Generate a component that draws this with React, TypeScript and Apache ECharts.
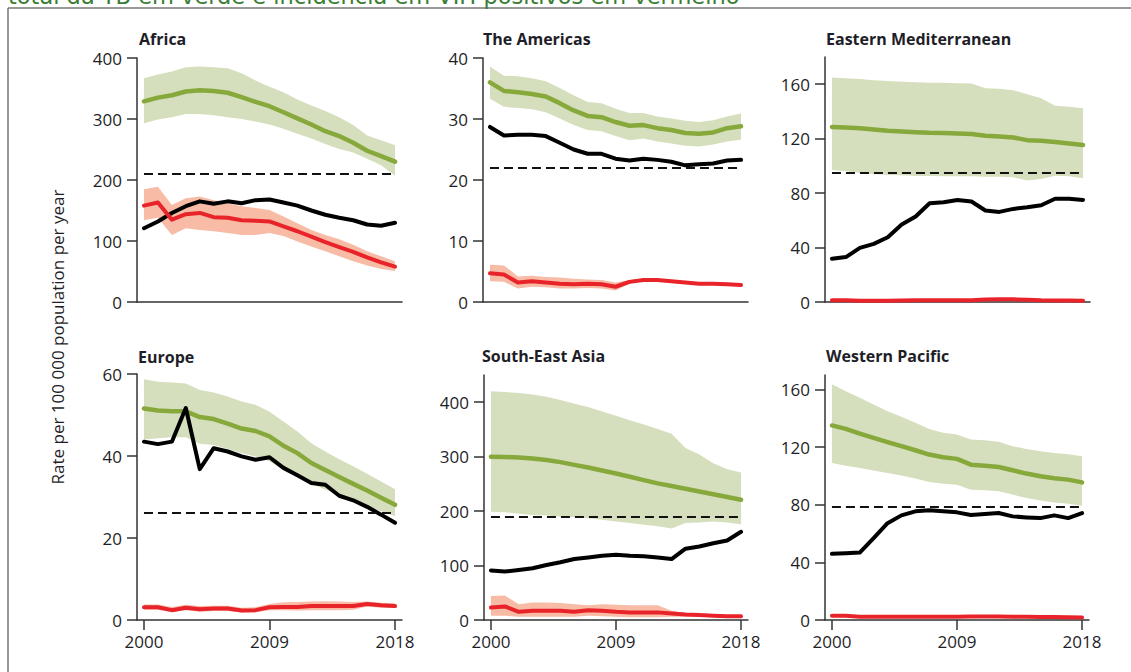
import React, { useEffect, useRef } from "react";
import * as echarts from "echarts";

const years = ["2000","2001","2002","2003","2004","2005","2006","2007","2008","2009","2010","2011","2012","2013","2014","2015","2016","2017","2018"];

const panelTitles = ["Africa", "The Americas", "Eastern Mediterranean", "Europe", "South-East Asia", "Western Pacific"];
const yAxisName = "Rate per 100 000 population per year";
const headerText = "total da TB em verde e incidência em VIH positivos em vermelho";

// Africa
const afrGreen = [329,335,339,345,347,346,343,336,328,321,311,301,291,280,272,261,248,239,230];
const afrGreenHi = [367,373,378,385,386,385,383,375,363,353,344,332,322,313,303,290,273,265,257];
const afrGreenLo = [293,299,303,308,308,306,303,300,296,291,284,276,268,259,251,245,235,224,207];
const afrBlack = [121,132,146,157,165,161,165,162,167,168,163,158,150,143,138,134,127,125,130];
const afrRed = [158,163,135,144,146,139,138,134,133,132,124,116,107,98,90,82,73,65,58];
const afrRedHi = [185,189,159,170,173,167,162,157,154,151,140,129,118,110,103,94,83,75,67];
const afrRedLo = [134,138,110,121,118,116,113,110,110,113,108,99,91,83,75,67,60,54,51];
const afrTarget = 210;

// The Americas
const amrGreen = [36.0,34.6,34.4,34.1,33.7,32.6,31.4,30.5,30.3,29.5,28.9,29.0,28.5,28.2,27.7,27.6,27.8,28.5,28.8];
const amrGreenHi = [38.6,37.1,37.0,36.7,36.2,35.1,33.9,32.8,32.6,31.7,31.0,31.0,30.4,30.1,29.7,29.5,29.8,30.4,30.9];
const amrGreenLo = [33.3,32.0,31.8,31.6,31.1,30.1,29.0,28.2,28.0,27.2,26.5,26.8,26.3,26.0,25.6,25.5,25.8,26.3,26.6];
const amrBlack = [28.7,27.3,27.4,27.4,27.2,26.1,25.0,24.3,24.3,23.5,23.2,23.5,23.3,23.0,22.4,22.6,22.7,23.2,23.3];
const amrRed = [4.7,4.5,3.2,3.4,3.2,3.0,2.9,3.0,2.9,2.5,3.3,3.6,3.6,3.4,3.2,3.0,3.0,2.9,2.8];
const amrRedHi = [6.1,6.0,4.2,4.3,4.1,4.0,3.8,3.7,3.6,3.2,3.6,3.8,3.8,3.6,3.4,3.2,3.2,3.1,3.0];
const amrRedLo = [3.4,3.3,2.2,2.5,2.4,2.2,2.2,2.3,2.2,1.9,3.0,3.4,3.4,3.2,3.0,2.8,2.8,2.7,2.6];
const amrTarget = 22;

// Eastern Mediterranean
const emrGreen = [128.6,128.2,127.7,126.8,125.8,125.3,124.8,124.3,124.1,123.8,123.4,122.1,121.6,120.9,118.9,118.4,117.5,116.5,115.3];
const emrGreenHi = [164.9,164.4,163.9,162.9,162.4,161.9,161.4,161.0,161.0,160.7,160.5,157.1,156.6,155.6,152.6,149.7,144.1,143.4,142.4];
const emrGreenLo = [97.0,96.0,95.0,94.0,93.3,93.1,92.6,92.6,92.3,92.3,92.3,92.1,92.1,91.6,89.2,90.4,92.8,92.3,90.9];
const emrBlack = [31.8,33.0,39.8,42.7,47.6,56.9,62.8,72.5,73.3,75.0,73.8,67.2,66.2,68.4,69.6,71.1,75.9,75.9,75.0];
const emrRed = [1.2,1.2,1.0,1.0,1.0,1.1,1.2,1.2,1.3,1.3,1.3,1.9,2.0,2.0,1.6,1.2,1.1,1.1,1.0];
const emrRedHi = [1.7,1.7,1.5,1.5,1.5,1.6,1.7,1.7,1.8,1.8,1.8,2.5,2.7,2.7,2.2,1.7,1.6,1.6,1.5];
const emrRedLo = [0.8,0.8,0.6,0.6,0.6,0.7,0.8,0.8,0.9,0.9,0.9,1.3,1.4,1.4,1.1,0.8,0.7,0.7,0.6];
const emrTarget = 94.8;

// Europe
const eurGreen = [51.6,51.1,50.9,50.9,49.5,49.0,47.9,46.7,46.1,44.8,42.5,40.7,38.3,36.6,34.9,33.2,31.6,29.8,28.1];
const eurGreenHi = [58.7,58.1,57.9,57.7,56.1,55.5,54.5,53.3,52.5,50.8,48.4,46.0,43.1,41.1,39.2,37.5,35.7,33.8,31.9];
const eurGreenLo = [44.0,44.3,44.6,44.6,43.0,42.7,41.7,40.7,39.9,38.7,36.6,35.0,33.2,31.8,30.3,29.0,27.7,26.5,25.3];
const eurBlack = [43.5,42.9,43.5,51.7,36.8,41.9,41.1,39.9,39.1,39.7,37.1,35.3,33.4,33.0,30.3,29.2,27.6,25.7,23.7];
const eurRed = [3.1,3.1,2.4,3.0,2.6,2.8,2.8,2.3,2.4,3.1,3.2,3.2,3.4,3.4,3.4,3.4,3.9,3.6,3.4];
const eurRedHi = [3.8,3.8,3.2,3.7,3.4,3.5,3.5,3.0,3.1,3.9,4.3,4.4,4.5,4.6,4.5,4.4,4.5,4.2,4.0];
const eurRedLo = [2.5,2.5,1.9,2.4,2.0,2.2,2.2,1.8,1.9,2.4,2.4,2.3,2.4,2.4,2.4,2.5,3.3,3.0,2.9];
const eurTarget = 26.1;

// South-East Asia
const searGreen = [300,299.5,298.5,296.5,294,290,285,280,274.5,269,263,257,251,246,241,236,231,226,221];
const searGreenHi = [420,419,417,414,410,404,397,391,383,375,367,359,351,342,316,304,288,277,271];
const searGreenLo = [199,198,195,193,192,190,189,187,184,181,178,175,172,168,178,179,181,179,176];
const searBlack = [91,89,92,95,101,106,112,115,118,120,118,117,115,112,131,135,141,146,162];
const searRed = [23,25,15,17,17,17,15,18,17,15,14,14,14,12,10,9,8,7,7];
const searRedHi = [44,45,29,32,32,31,29,27,29,28,27,27,27,17,13,11,9,8,8];
const searRedLo = [8,8,6,6,6,6,6,8,7,6,5,5,5,6,6,6,6,6,6];
const searTarget = 189;

// Western Pacific
const wprGreen = [135.0,132.6,129.4,126.4,123.4,120.6,117.8,114.8,112.9,111.8,107.8,107.1,106.2,103.9,101.6,99.7,98.3,97.4,95.5];
const wprGreenHi = [163.5,158.8,154.2,149.6,144.9,141.0,136.8,132.6,129.9,128.7,125.2,124.8,123.6,120.6,118.7,117.1,115.9,115.0,113.6];
const wprGreenLo = [109.0,107.1,105.5,103.7,102.0,100.2,98.1,95.8,94.6,93.9,90.4,90.0,89.3,87.0,84.6,83.0,81.6,80.7,79.3];
const wprBlack = [45.9,46.4,46.8,56.8,67.2,72.6,75.4,76.1,75.4,74.7,72.8,73.5,74.2,71.9,71.2,70.7,72.6,70.7,74.2];
const wprRed = [3.0,3.0,2.3,2.2,2.2,2.2,2.2,2.2,2.2,2.3,2.4,2.5,2.5,2.3,2.2,2.1,2.0,1.9,1.8];
const wprRedHi = [3.6,3.6,2.8,2.7,2.7,2.7,2.7,2.7,2.7,2.8,2.9,3.0,3.0,2.8,2.7,2.6,2.5,2.4,2.3];
const wprRedLo = [2.4,2.4,1.8,1.7,1.7,1.7,1.7,1.7,1.7,1.8,1.9,2.0,2.0,1.8,1.7,1.6,1.5,1.4,1.3];
const wprTarget = 78.8;

// y axis tick values and axis maxima
const afrTicks = [0, 100, 200, 300, 400];
const amrTicks = [0, 10, 20, 30, 40];
const emrTicks = [0, 40, 80, 120, 160];
const eurTicks = [0, 20, 40, 60];
const searTicks = [0, 100, 200, 300, 400];
const wprTicks = [0, 40, 80, 120, 160];
const axisMax = [400, 40, 180, 60, 450, 170];

const panels = [
  { green: afrGreen, gHi: afrGreenHi, gLo: afrGreenLo, black: afrBlack, red: afrRed, rHi: afrRedHi, rLo: afrRedLo, target: afrTarget, ticks: afrTicks },
  { green: amrGreen, gHi: amrGreenHi, gLo: amrGreenLo, black: amrBlack, red: amrRed, rHi: amrRedHi, rLo: amrRedLo, target: amrTarget, ticks: amrTicks },
  { green: emrGreen, gHi: emrGreenHi, gLo: emrGreenLo, black: emrBlack, red: emrRed, rHi: emrRedHi, rLo: emrRedLo, target: emrTarget, ticks: emrTicks },
  { green: eurGreen, gHi: eurGreenHi, gLo: eurGreenLo, black: eurBlack, red: eurRed, rHi: eurRedHi, rLo: eurRedLo, target: eurTarget, ticks: eurTicks },
  { green: searGreen, gHi: searGreenHi, gLo: searGreenLo, black: searBlack, red: searRed, rHi: searRedHi, rLo: searRedLo, target: searTarget, ticks: searTicks },
  { green: wprGreen, gHi: wprGreenHi, gLo: wprGreenLo, black: wprBlack, red: wprRed, rHi: wprRedHi, rLo: wprRedLo, target: wprTarget, ticks: wprTicks },
];

const gridPos = [
  { left: 137, top: 58, width: 265, height: 244 },
  { left: 483, top: 58, width: 265, height: 244 },
  { left: 825, top: 57, width: 265, height: 245 },
  { left: 137, top: 374, width: 265, height: 246 },
  { left: 484, top: 375, width: 264, height: 245 },
  { left: 825, top: 375, width: 264, height: 245 },
];
const titlePos = [
  { left: 139, top: 31 },
  { left: 483, top: 31 },
  { left: 826, top: 31 },
  { left: 138, top: 349 },
  { left: 482, top: 348 },
  { left: 826, top: 348 },
];

const FONT = "Open Sans";
const AXIS_COLOR = "#333333";
const TEXT_COLOR = "#1e1e28";
const GREEN = "#87a83b";
const GREEN_BAND = "#d6dfbd";
const RED = "#e8242a";
const RED_BAND = "#f7bba6";

export default function App() {
  const ref = useRef<HTMLDivElement>(null);
  useEffect(() => {
    if (!ref.current) return;
    const chart = echarts.init(ref.current, null, { renderer: "svg" });

    const grid: any[] = [];
    const xAxis: any[] = [];
    const yAxis: any[] = [];
    const series: any[] = [];
    const title: any[] = [];

    panels.forEach((p, i) => {
      const bottomRow = i >= 3;
      grid.push({ ...gridPos[i], containLabel: false });
      title.push({
        text: panelTitles[i],
        ...titlePos[i],
        padding: 0,
        textStyle: { fontFamily: FONT, fontSize: 16, fontWeight: "bold", color: TEXT_COLOR },
      });
      xAxis.push({
        type: "category",
        gridIndex: i,
        data: years,
        boundaryGap: true,
        axisLine: { show: true, lineStyle: { color: AXIS_COLOR, width: 1.5 } },
        axisTick: {
          show: bottomRow,
          alignWithLabel: true,
          length: 10,
          interval: (idx: number) => idx % 9 === 0,
          lineStyle: { color: AXIS_COLOR, width: 1.5 },
        },
        axisLabel: {
          show: bottomRow,
          interval: (idx: number) => idx % 9 === 0,
          margin: 13,
          fontFamily: FONT,
          fontSize: 17,
          fontWeight: 500,
          color: TEXT_COLOR,
        },
        splitLine: { show: false },
      });
      yAxis.push({
        type: "value",
        gridIndex: i,
        min: 0,
        max: axisMax[i],
        axisLine: { show: true, lineStyle: { color: AXIS_COLOR, width: 1.5 } },
        axisTick: { show: true, length: 10, customValues: p.ticks, lineStyle: { color: AXIS_COLOR, width: 1.5 } },
        axisLabel: { customValues: p.ticks, margin: 15, fontFamily: FONT, fontSize: 17, fontWeight: 500, color: TEXT_COLOR },
        splitLine: { show: false },
      });

      const base = { type: "line", xAxisIndex: i, yAxisIndex: i, symbol: "none", silent: true };
      series.push({
        ...base,
        stack: "gband" + i,
        data: p.gLo,
        lineStyle: { opacity: 0 },
      });
      series.push({
        ...base,
        stack: "gband" + i,
        data: p.gHi.map((v, k) => v - p.gLo[k]),
        lineStyle: { opacity: 0 },
        areaStyle: { color: GREEN_BAND, opacity: 1 },
      });
      series.push({
        ...base,
        stack: "rband" + i,
        data: p.rLo,
        lineStyle: { opacity: 0 },
      });
      series.push({
        ...base,
        stack: "rband" + i,
        data: p.rHi.map((v, k) => v - p.rLo[k]),
        lineStyle: { opacity: 0 },
        areaStyle: { color: RED_BAND, opacity: 1 },
      });
      series.push({
        ...base,
        data: p.green,
        lineStyle: { color: GREEN, width: 4.5, join: "round", cap: "round" },
        markLine: {
          silent: true,
          symbol: ["none", "none"],
          label: { show: false },
          lineStyle: { color: "#111111", width: 2, type: [9, 5] },
          data: [[{ coord: [years[0], p.target] }, { coord: [years[years.length - 1], p.target] }]],
        },
      });
      series.push({
        ...base,
        data: p.black,
        lineStyle: { color: "#000000", width: 4, join: "round", cap: "round" },
      });
      series.push({
        ...base,
        data: p.red,
        lineStyle: { color: RED, width: 4, join: "round", cap: "round" },
      });
    });

    chart.setOption({
      animation: false,
      backgroundColor: "#ffffff",
      title,
      grid,
      xAxis,
      yAxis,
      series,
      graphic: [
        {
          type: "line",
          shape: { x1: 8, y1: 8, x2: 1131, y2: 8 },
          style: { stroke: "#777777", lineWidth: 1.5 },
        },
        {
          type: "line",
          shape: { x1: 8, y1: 8, x2: 8, y2: 672 },
          style: { stroke: "#777777", lineWidth: 1.5 },
        },
        {
          type: "text",
          x: 8,
          y: -4,
          style: {
            text: headerText,
            fontFamily: "DejaVu Sans",
            fontSize: 22.5,
            fill: "#3a7d34",
            align: "left",
            verticalAlign: "middle",
          },
        },
        {
          type: "text",
          x: 57,
          y: 337,
          rotation: Math.PI / 2,
          style: {
            text: yAxisName,
            fontFamily: FONT,
            fontSize: 17,
            fill: TEXT_COLOR,
            align: "center",
            verticalAlign: "middle",
          },
        },
      ],
    });
    return () => chart.dispose();
  }, []);

  return (
    <div
      ref={ref}
      style={{ position: "absolute", left: 0, top: 0, width: 1131, height: 672, background: "#ffffff" }}
    />
  );
}
